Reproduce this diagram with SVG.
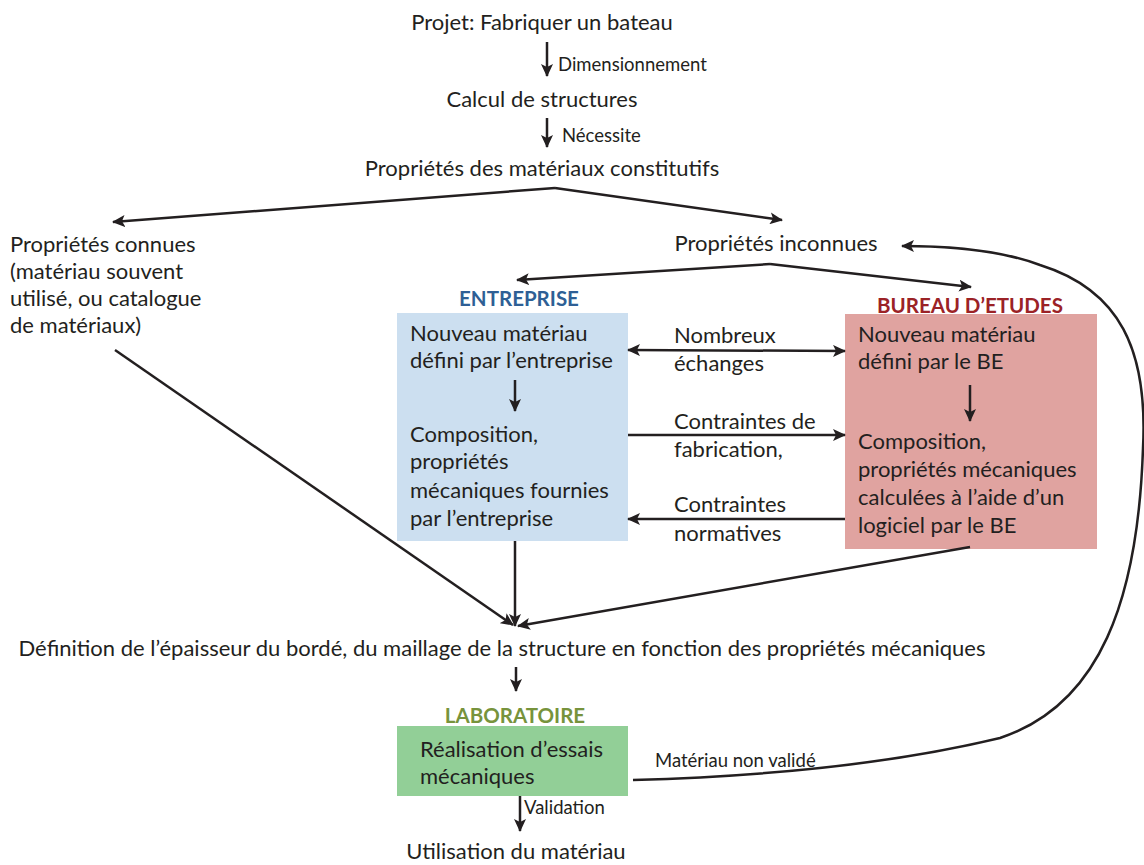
<svg xmlns="http://www.w3.org/2000/svg" width="1144" height="865" viewBox="0 0 1144 865">
<style>
text{font-family:Lato,"Open Sans","Liberation Sans",sans-serif;fill:#231F20}
.t{font-size:22px}
.s{font-size:18.5px}
.h{font-size:20.5px;font-weight:bold}
.ce{stroke:#231F20;stroke-width:2.5;fill:none;marker-end:url(#ah)}
.cb{stroke:#231F20;stroke-width:2.5;fill:none;marker-end:url(#ah);marker-start:url(#ah)}
</style>
<defs>
<marker id="ah" markerUnits="userSpaceOnUse" markerWidth="14" markerHeight="12" refX="12" refY="6" orient="auto-start-reverse" viewBox="0 0 14 12">
<path d="M0,0 L13,6 L0,12 L3,6 z" fill="#231F20"/>
</marker>
</defs>
<rect width="1144" height="865" fill="#fff"/>
<g id="n-projet"><text class="t" x="542" y="30" text-anchor="middle">Projet: Fabriquer un bateau</text></g>
<g id="n-calcul"><text class="t" x="542" y="107" text-anchor="middle">Calcul de structures</text></g>
<g id="n-proprietes"><text class="t" x="542" y="176" text-anchor="middle">Propriétés des matériaux constitutifs</text></g>
<g id="n-connues"><text class="t" x="10" y="252">Propriétés connues</text><text class="t" x="10" y="279">(matériau souvent</text><text class="t" x="10" y="306">utilisé, ou catalogue</text><text class="t" x="10" y="333">de matériaux)</text></g>
<g id="n-inconnues"><text class="t" x="776" y="251" text-anchor="middle">Propriétés inconnues</text></g>
<g id="n-entreprise">
<text class="h" x="519" y="306" text-anchor="middle" style="fill:#2E5F95">ENTREPRISE</text>
<rect x="397" y="313" width="231" height="228" fill="#CCDFF0"/>
<text class="t" x="410" y="341">Nouveau matériau</text>
<text class="t" x="410" y="368">défini par l’entreprise</text>
<text class="t" x="410" y="442">Composition,</text>
<text class="t" x="410" y="469">propriétés</text>
<text class="t" x="410" y="498">mécaniques fournies</text>
<text class="t" x="410" y="526">par l’entreprise</text>
</g>
<g id="n-be">
<text class="h" x="970" y="313" text-anchor="middle" style="fill:#9B2226">BUREAU D’ETUDES</text>
<rect x="845" y="314" width="252" height="235" fill="#E0A3A0"/>
<text class="t" x="858" y="342">Nouveau matériau</text>
<text class="t" x="858" y="369">défini par le BE</text>
<text class="t" x="858" y="449">Composition,</text>
<text class="t" x="858" y="477">propriétés mécaniques</text>
<text class="t" x="858" y="505">calculées à l’aide d’un</text>
<text class="t" x="858" y="533">logiciel par le BE</text>
</g>
<g id="n-definition"><text class="t" x="502" y="656" text-anchor="middle">Définition de l’épaisseur du bordé, du maillage de la structure en fonction des propriétés mécaniques</text></g>
<g id="n-labo">
<text class="h" x="515" y="723" text-anchor="middle" style="fill:#77933C">LABORATOIRE</text>
<rect x="397" y="726" width="231" height="70" fill="#92CF97"/>
<text class="t" x="420" y="757">Réalisation d’essais</text>
<text class="t" x="420" y="784">mécaniques</text>
</g>
<g id="n-utilisation"><text class="t" x="516" y="859" text-anchor="middle">Utilisation du matériau</text></g>
<g id="connectors">
<line class="ce" x1="547" y1="42" x2="547" y2="76"/>
<text class="s" x="558" y="71">Dimensionnement</text>
<line class="ce" x1="547" y1="118" x2="547" y2="147"/>
<text class="s" x="562" y="142">Nécessite</text>
<polyline class="ce" points="555,188 113,222"/>
<polyline class="ce" points="555,188 782,220"/>
<polyline class="ce" points="770,264 517,280"/>
<polyline class="ce" points="770,264 971,287"/>
<line class="ce" x1="515" y1="380" x2="515" y2="411"/>
<line class="ce" x1="970" y1="385" x2="970" y2="421"/>
<line class="cb" x1="628" y1="350" x2="845" y2="351"/>
<text class="t" x="674" y="343">Nombreux</text>
<text class="t" x="674" y="371">échanges</text>
<line class="ce" x1="628" y1="435" x2="845" y2="435"/>
<text class="t" x="674" y="429">Contraintes de</text>
<text class="t" x="674" y="457">fabrication,</text>
<line class="ce" x1="845" y1="519" x2="628" y2="519"/>
<text class="t" x="674" y="512">Contraintes</text>
<text class="t" x="674" y="541">normatives</text>
<line class="ce" x1="115" y1="350" x2="513" y2="625"/>
<line class="ce" x1="515" y1="541" x2="515" y2="626"/>
<line class="ce" x1="970" y1="547" x2="518" y2="626"/>
<line class="ce" x1="516" y1="667" x2="516" y2="691"/>
<path class="ce" d="M633,780 C780,776 900,762 1000,738 C1100,705 1138,600 1143,448 C1148,350 1120,290 1040,265 C1000,250 950,246 902,246"/>
<text class="s" x="655" y="767">Matériau non validé</text>
<line class="ce" x1="520" y1="796" x2="520" y2="831"/>
<text class="s" x="524" y="814">Validation</text>
</g>
</svg>
